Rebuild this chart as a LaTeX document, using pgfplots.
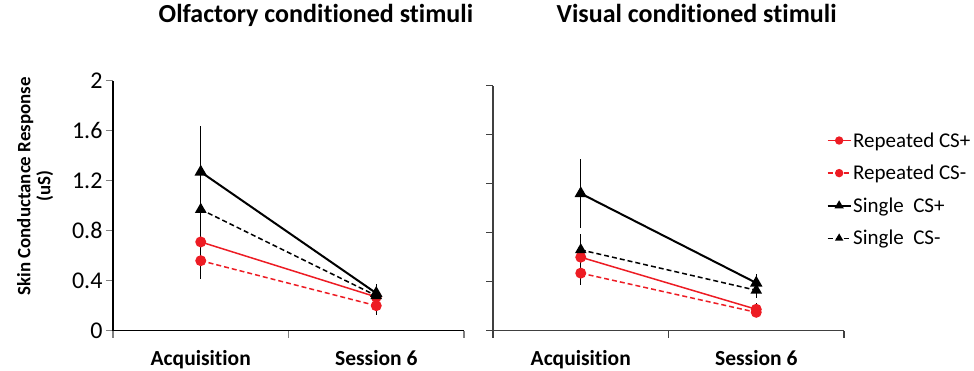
\documentclass[border=0pt]{standalone}
\usepackage{fontspec}
\setmainfont{Carlito}[Ligatures={NoCommon}]
\usepackage{pgfplots}
\pgfplotsset{compat=1.18}
\definecolor{cred}{RGB}{237,28,36}
\begin{document}
\begin{tikzpicture}
\useasboundingbox (0pt,0pt) rectangle (974pt,370pt);
\pgfplotsset{
  panel/.style={
    scale only axis, width=351pt,
    xmin=-0.5, xmax=1.5, ymin=0, ymax=2,
    axis x line*=bottom, axis y line*=left,
    tick align=outside, major tick length=7pt,
    xtick={-0.5,0.5,1.5}, x tick label as interval,
    xticklabels={Acquisition,Session 6},
    xticklabel style={font=\fontsize{21.5}{25}\selectfont\bfseries, yshift=-9pt},
    ytick={0,0.4,0.8,1.2,1.6,2},
    yticklabel style={font=\fontsize{24}{28}\selectfont},
    axis line style={line width=1.2pt},
    tick style={line width=1.2pt},
    clip=false,
    title style={font=\fontsize{26}{30}\selectfont\bfseries, anchor=base},
    legend image code/.code={\draw[mark repeat=2, mark phase=2, mark size=3.4pt] plot coordinates {(0pt,0pt) (11.5pt,0pt) (23pt,0pt)};},
    error bars/y dir=both, error bars/y explicit, error bars/error mark=none,
    error bars/error bar style={black, line width=1.1pt, solid},
  },
  repp/.style={cred, line width=1.5pt, mark=*, mark size=4.7pt, mark options={solid, fill=cred}},
  repm/.style={cred, line width=1.5pt, dash pattern=on 5pt off 3pt, mark=*, mark size=4.7pt, mark options={solid, fill=cred}},
  sinp/.style={black, line width=2pt, mark=triangle*, mark size=5.2pt, mark options={solid, fill=black}},
  sinm/.style={black, line width=1.5pt, dash pattern=on 5pt off 3pt, mark=triangle*, mark size=5.2pt, mark options={solid, fill=black}},
}
\begin{axis}[panel, at={(113pt,39.3pt)}, anchor=south west, height=250pt,
  yticklabels={0,0.4,0.8,1.2,1.6,2},
  title={Olfactory conditioned stimuli},
  title style={at={(axis description cs:0.578,1)}, yshift=51.7pt},
  ylabel={Skin Conductance Response\\(uS)},
  ylabel style={align=center, font=\fontsize{18.9}{20}\selectfont\bfseries, at={(axis description cs:-0.222,0.577)}, anchor=center},
]
\addplot[repp] coordinates {(0,0.71) +- (0,0.30) (1,0.27) +- (0,0.05)};
\addplot[repm] coordinates {(0,0.56) +- (0,0.12) (1,0.20) +- (0,0.075)};
\addplot[sinp] coordinates {(0,1.27) +- (0,0.37) (1,0.30) +- (0,0.07)};
\addplot[sinm] coordinates {(0,0.97) +- (0,0.30) (1,0.28) +- (0,0.05)};
\end{axis}
\begin{axis}[panel, at={(493pt,39.3pt)}, anchor=south west, height=245pt,
  yticklabels={},
  axis line style={black!75}, tick style={black!75},
  title={Visual conditioned stimuli},
  title style={at={(axis description cs:0.580,1)}, yshift=56.7pt},
  legend style={at={(axis description cs:0.95,0.816)}, anchor=north west, draw=none, fill=none,
    font=\fontsize{21}{25}\selectfont, row sep=13.5pt, inner sep=0pt, nodes={inner sep=1.5pt}},
  legend cell align=left,
]
\addplot[repp] coordinates {(0,0.60) +- (0,0.19) (1,0.175) +- (0,0.05)};
\addplot[repm] coordinates {(0,0.47) +- (0,0.10) (1,0.15) +- (0,0.04)};
\addplot[sinp] coordinates {(0,1.12) +- (0,0.28) (1,0.39) +- (0,0.07)};
\addplot[sinm] coordinates {(0,0.66) +- (0,0.12) (1,0.33) +- (0,0.06)};
\legend{Repeated CS+, Repeated CS-, Single\ \ CS+, Single\ \ CS-}
\end{axis}
\end{tikzpicture}
\end{document}
